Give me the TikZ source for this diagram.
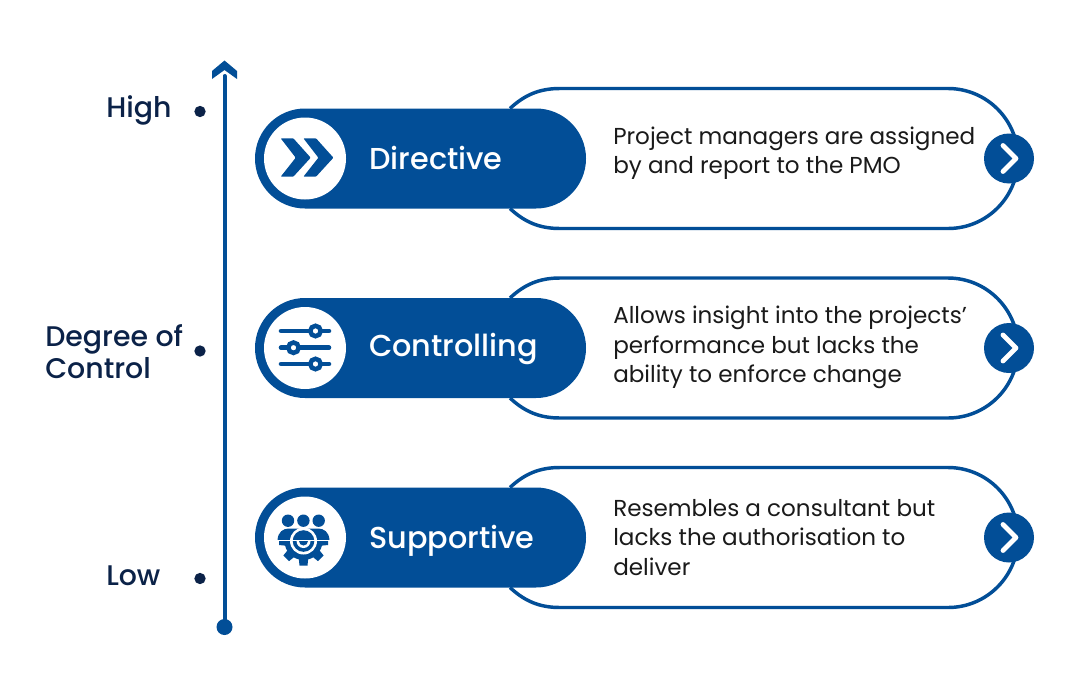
\documentclass[tikz,border=0pt]{standalone}
\usepackage{fontspec}
\setmainfont{Poppins}
\newfontfamily\medfont{Poppins Medium}
\definecolor{brand}{HTML}{024E97}
\definecolor{ink}{HTML}{0B2248}
\definecolor{body}{HTML}{1A1A1A}
\newcommand{\rowbg}[1]{%
  \draw[outlinepill] (510,#1-50) .. controls (525,#1-64) and (540,#1-70) .. (560,#1-70) -- (948,#1-70) arc[start angle=-90,end angle=90,radius=70] -- (560,#1+70) .. controls (540,#1+70) and (525,#1+64) .. (510,#1+50);
  \fill[brand] (305,#1-50) -- (536,#1-50) arc[start angle=-90,end angle=90,radius=50] -- (305,#1+50) arc[start angle=90,end angle=270,radius=50] -- cycle;
  \fill[white] (305,#1) circle[radius=41];
  \fill[brand] (1009,#1) circle[radius=25];
  \draw[white,line width=3.6,line cap=round,line join=round] (1003,#1-13) -- (1016,#1) -- (1003,#1+13);
}
\tikzset{
  x=0.75pt,y=-0.75pt,
  outlinepill/.style={draw=brand,line width=2.6,fill=white},
  title/.style={text=white,font=\medfont\fontsize{22.7}{28}\selectfont,anchor=base west,inner sep=0},
  desc/.style={text=body,font=\fontsize{17.3}{22}\selectfont,anchor=west,inner sep=0,align=left},
  axislabel/.style={text=ink,font=\medfont\fontsize{21.3}{25}\selectfont,inner sep=0,align=left},
  axisdot/.style={circle,fill=ink,inner sep=0,minimum size=8.5pt},
  knob/.style={draw=brand,fill=white,line width=3.4},
  bar/.style={draw=brand,line width=3.4,line cap=round},
}
\begin{document}
\begin{tikzpicture}
\useasboundingbox (0,0) rectangle (1080,696);
\fill[white] (0,0) rectangle (1080,696);
% axis
\coordinate (axisbottom) at (224.5,627);
\coordinate (axistop) at (224.5,76);
\draw[brand,line width=3,line cap=round] (axisbottom) -- (axistop);
\fill[brand] (axisbottom) circle[radius=8];
\fill[brand] (212,71) -- (212,79) -- (224.5,70) -- (237,79) -- (237,71) -- (224.5,60.5) -- cycle;
\node[axislabel,anchor=west] (high) at (106,110) {High};
\node[axislabel,anchor=west] (degree) at (45,352) {Degree of\\[-1pt]Control};
\node[axislabel,anchor=west] (low) at (106,576) {Low};
\node[axisdot] (d1) at (200,111.5) {};
\node[axisdot] (d2) at (200,351) {};
\node[axisdot] (d3) at (200,578.5) {};
% rows
\rowbg{158.5}
\rowbg{348}
\rowbg{537.5}
\node[title] (t1) at (369,169) {Directive};
\node[title] (t2) at (369,356) {Controlling};
\node[title] (t3) at (369,548) {Supportive};
\node[desc] (p1) at (613,153) {Project managers are assigned\\by and report to the PMO};
\node[desc] (p2) at (613,347.5) {Allows insight into the projects'\\performance but lacks the\\ability to enforce change};
\node[desc] (p3) at (613,537.5) {Resembles a consultant but\\lacks the authorisation to\\deliver};
% icon 1
\fill[brand,rounded corners=0.6] (280.7,138.3) -- (293.3,138.3) -- (310.7,157.7) -- (293.3,176.7) -- (280.7,176.7) -- (295.7,157.7) -- cycle;
\fill[brand,rounded corners=0.6] (303.4,138.3) -- (316,138.3) -- (333.4,157.7) -- (316,176.7) -- (303.4,176.7) -- (318.4,157.7) -- cycle;
% icon 2
\draw[bar] (281,331) -- (329,331);
\draw[bar] (281,347.7) -- (329,347.7);
\draw[bar] (281,364) -- (329,364);
\draw[knob] (315.5,331) circle[radius=5.2];
\draw[knob] (293.5,347.7) circle[radius=5.2];
\draw[knob] (315.5,364) circle[radius=5.2];
% icon 3
\fill[brand] (288,520.7) circle[radius=6.2];
\fill[brand] (303.4,520.7) circle[radius=6.2];
\fill[brand] (318.7,520.7) circle[radius=6.2];
\fill[brand] (277.5,540) .. controls (278,532) and (283,528.5) .. (289,528.5) -- (318,528.5) .. controls (324,528.5) and (329,532) .. (329.5,540) -- cycle;
\begin{scope}
\clip (270,540) rectangle (340,575);
\fill[brand] (303.5,541) circle[radius=19];
\foreach \a in {-90,-45,...,90}
  \fill[brand,rotate around={\a:(303.5,541)}] (297,541) -- (299.5,565.5) -- (307.5,565.5) -- (310,541) -- cycle;
\end{scope}
\fill[white] (303.5,541) circle[radius=13.5];
\fill[brand] (303.5,541) circle[radius=10.8];
\fill[white] (276,539.6) rectangle (331,541.2);
\fill[white] (296.5,541) arc[start angle=180,end angle=0,radius=7] -- cycle;
\fill[brand] (299,541) arc[start angle=180,end angle=0,radius=4.5] -- cycle;
\end{tikzpicture}
\end{document}
